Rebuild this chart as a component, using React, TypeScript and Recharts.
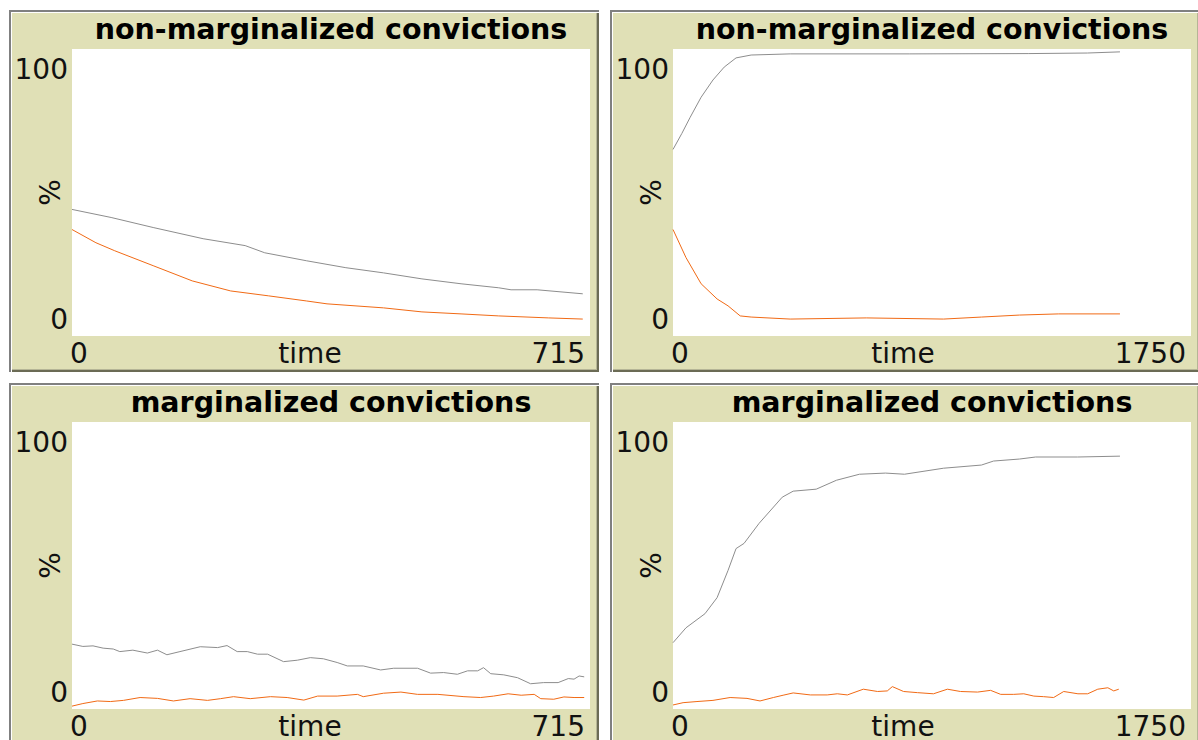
import { CartesianGrid, Line, LineChart, XAxis, YAxis } from 'recharts';

// top-left panel: non-marginalized, short run
const nmShortGrayT = [0, 54, 112, 181, 239, 266, 324, 378, 430, 483, 537, 589, 606, 642, 705];
const nmShortGrayV = [44.1, 41.3, 37.8, 33.9, 31.5, 29.0, 26.2, 23.8, 22.0, 19.9, 18.2, 16.8, 16.1, 16.1, 14.7];
const nmShortOrangeT = [0, 33, 59, 112, 166, 219, 271, 324, 352, 430, 483, 537, 589, 658, 705];
const nmShortOrangeV = [37.1, 32.5, 29.7, 24.5, 19.2, 15.7, 14.0, 12.2, 11.2, 9.8, 8.4, 7.7, 7.0, 6.3, 5.9];

// top-right panel: non-marginalized, long run
const nmLongGrayT = [0, 30, 58, 95, 135, 173, 213, 264, 396, 800, 1200, 1400, 1510];
const nmLongGrayV = [65.0, 70.6, 76.2, 83.2, 89.2, 93.7, 96.9, 97.9, 98.3, 98.3, 98.4, 98.6, 99.0];
const nmLongOrangeT = [0, 44, 95, 149, 186, 227, 264, 396, 653, 914, 1042, 1171, 1303, 1510];
const nmLongOrangeV = [37.1, 27.3, 18.2, 12.9, 10.5, 7.0, 6.6, 5.9, 6.3, 5.9, 6.6, 7.3, 7.7, 7.7];

// bottom-left panel: marginalized, short run
const mShortGrayT = [
  0, 15, 29, 43, 57, 66, 84, 104, 118, 131, 149, 177, 201, 214, 228, 242, 256, 270, 292, 311, 329, 347, 366, 380,
  402, 426, 444, 477, 495, 513, 532, 546, 560, 568, 578, 596, 615, 633, 651, 671, 685, 693, 700, 707,
];
const mShortGrayV = [
  22.6, 21.8, 22.0, 21.2, 20.9, 20.0, 20.5, 19.5, 20.5, 18.9, 20.0, 21.7, 21.4, 22.1, 20.0, 20.0, 19.1, 19.1, 16.5,
  17.0, 17.9, 17.5, 16.2, 15.0, 15.0, 13.6, 14.2, 14.2, 12.5, 12.7, 12.1, 13.3, 13.3, 14.4, 12.3, 11.9, 10.9, 8.8,
  9.2, 9.2, 10.6, 10.4, 11.5, 11.2,
];
const mShortOrangeT = [
  0, 15, 35, 53, 71, 94, 118, 140, 163, 187, 205, 223, 246, 274, 297, 320, 339, 366, 394, 402, 430, 454, 477, 505,
  541, 564, 582, 602, 620, 638, 647, 665, 679, 693, 707,
];
const mShortOrangeV = [
  1.0, 1.9, 2.8, 2.6, 3.0, 4.0, 3.7, 2.8, 3.6, 3.0, 3.6, 4.3, 3.6, 4.3, 4.0, 3.1, 4.5, 4.5, 5.1, 4.3, 5.5, 5.9, 5.1,
  5.1, 4.3, 4.0, 4.5, 5.3, 4.8, 5.1, 3.6, 3.4, 4.2, 4.0, 4.0,
];

// bottom-right panel: marginalized, long run
const mLongGrayT = [0, 44, 108, 149, 186, 213, 240, 291, 369, 406, 484, 552, 630, 718, 782, 914, 1042, 1083, 1171, 1225, 1367, 1510];
const mLongGrayV = [23.1, 28.3, 33.2, 38.8, 48.3, 55.9, 57.7, 64.7, 73.8, 75.9, 76.6, 79.7, 81.8, 82.2, 81.8, 83.9, 85.0, 86.4, 87.1, 87.8, 87.8, 88.1];
const mLongOrangeT = [
  0, 34, 81, 135, 193, 250, 294, 339, 372, 406, 464, 521, 555, 589, 643, 691, 724, 741, 779, 826, 880, 927, 971,
  1029, 1073, 1107, 1151, 1185, 1219, 1252, 1286, 1320, 1368, 1401, 1435, 1469, 1489, 1506,
];
const mLongOrangeV = [
  1.4, 2.2, 2.6, 3.0, 4.0, 3.7, 2.8, 4.0, 4.8, 5.6, 4.9, 4.9, 5.3, 4.9, 6.9, 6.1, 6.3, 7.8, 6.1, 5.7, 5.3, 6.9, 6.1,
  5.9, 6.5, 5.1, 5.1, 5.3, 4.5, 4.3, 4.0, 6.1, 5.3, 5.3, 6.9, 7.4, 6.3, 6.9,
];

const Y_TICKS = [0, 100];

const zip = (t: number[], v: number[]) => t.map((time, i) => ({ time, value: v[i] }));

const BEIGE = 'rgb(224, 224, 182)';
const GRAY = '#8d8d8d';
const ORANGE = '#f16a15';
const FONT = '"DejaVu Sans", sans-serif';

const PANEL_W = 590;
const PANEL_H = 362;
const PLOT_LEFT = 63;
const PLOT_TOP = 39;
const PLOT_W = 518;
const PLOT_H = 287;

interface PanelProps {
  left: number;
  top: number;
  title: string;
  maxTime: number;
  timeShift: number;
  gray: Array<{ time: number; value: number }>;
  orange: Array<{ time: number; value: number }>;
}

function Panel({ left, top, title, maxTime, timeShift, gray, orange }: PanelProps) {
  const yTick = (p: any) => {
    const top100 = p.payload.value === 100;
    return (
      <text x={PLOT_LEFT - 4} y={top100 ? p.y + 30 : p.y - 7} textAnchor="end" fontSize={28} fontFamily={FONT} fill="#111">
        {p.payload.value}
      </text>
    );
  };
  const xTick = (p: any) => {
    const first = p.payload.value === 0;
    return (
      <text
        x={first ? p.x - 2 : p.x - 5}
        y={PLOT_TOP + PLOT_H + 27}
        textAnchor={first ? 'start' : 'end'}
        fontSize={28}
        fontFamily={FONT}
        fill="#111"
      >
        {p.payload.value}
      </text>
    );
  };

  return (
    <div
      style={{
        position: 'absolute',
        left,
        top,
        width: PANEL_W,
        height: PANEL_H,
        background: BEIGE,
        boxShadow:
          'inset 2px 2px 0 #808080, inset 3px 3px 0 #ffffff, inset -2px -2px 0 #6b6b55, inset -3px -3px 0 #b5b596',
      }}
    >
      <svg width={PANEL_W} height={40} style={{ position: 'absolute', left: 0, top: 0 }}>
        <text x={PLOT_LEFT + PLOT_W / 2} y={29} textAnchor="middle" fontSize={28.5} fontWeight="bold" fontFamily={FONT} fill="#000">
          {title}
        </text>
      </svg>
      <LineChart
        width={PANEL_W}
        height={PANEL_H}
        margin={{ top: PLOT_TOP, right: PANEL_W - PLOT_LEFT - PLOT_W, bottom: 0, left: 0 }}
        style={{ position: 'absolute', left: 0, top: 0 }}
      >
        <CartesianGrid fill="#ffffff" horizontal={false} vertical={false} />
        <XAxis
          type="number"
          dataKey="time"
          domain={[0, maxTime]}
          ticks={[0, maxTime]}
          interval={0}
          height={PANEL_H - PLOT_TOP - PLOT_H}
          axisLine={false}
          tickLine={false}
          tickSize={0}
          tick={xTick}
          label={{
            content: (lp: any) => (
              <text
                x={lp.viewBox.x + lp.viewBox.width / 2 + timeShift}
                y={PLOT_TOP + PLOT_H + 27}
                textAnchor="middle"
                fontSize={28}
                fontFamily={FONT}
                fill="#111"
              >
                time
              </text>
            ),
          }}
        />
        <YAxis
          type="number"
          domain={[0, 100]}
          ticks={Y_TICKS}
          interval={0}
          width={PLOT_LEFT}
          axisLine={false}
          tickLine={false}
          tickSize={0}
          tick={yTick}
          label={{
            content: (lp: any) => {
              const cy = lp.viewBox.y + lp.viewBox.height / 2;
              return (
                <text
                  x={41}
                  y={cy}
                  transform={`rotate(-90, 41, ${cy})`}
                  textAnchor="middle"
                  dominantBaseline="central"
                  fontSize={28}
                  fontFamily={FONT}
                  fill="#111"
                >
                  %
                </text>
              );
            },
          }}
        />
        <Line data={gray} dataKey="value" type="linear" stroke={GRAY} strokeWidth={1} dot={false} isAnimationActive={false} />
        <Line data={orange} dataKey="value" type="linear" stroke={ORANGE} strokeWidth={1} dot={false} isAnimationActive={false} />
      </LineChart>
    </div>
  );
}

export default function App() {
  return (
    <div style={{ position: 'fixed', left: 0, top: 0, width: 1198, height: 740, overflow: 'hidden', background: '#fff' }}>
      <Panel
        left={9}
        top={10}
        title="non-marginalized convictions"
        maxTime={715}
        timeShift={-21}
        gray={zip(nmShortGrayT, nmShortGrayV)}
        orange={zip(nmShortOrangeT, nmShortOrangeV)}
      />
      <Panel
        left={610}
        top={10}
        title="non-marginalized convictions"
        maxTime={1750}
        timeShift={-29}
        gray={zip(nmLongGrayT, nmLongGrayV)}
        orange={zip(nmLongOrangeT, nmLongOrangeV)}
      />
      <Panel
        left={9}
        top={383}
        title="marginalized convictions"
        maxTime={715}
        timeShift={-21}
        gray={zip(mShortGrayT, mShortGrayV)}
        orange={zip(mShortOrangeT, mShortOrangeV)}
      />
      <Panel
        left={610}
        top={383}
        title="marginalized convictions"
        maxTime={1750}
        timeShift={-29}
        gray={zip(mLongGrayT, mLongGrayV)}
        orange={zip(mLongOrangeT, mLongOrangeV)}
      />
    </div>
  );
}
